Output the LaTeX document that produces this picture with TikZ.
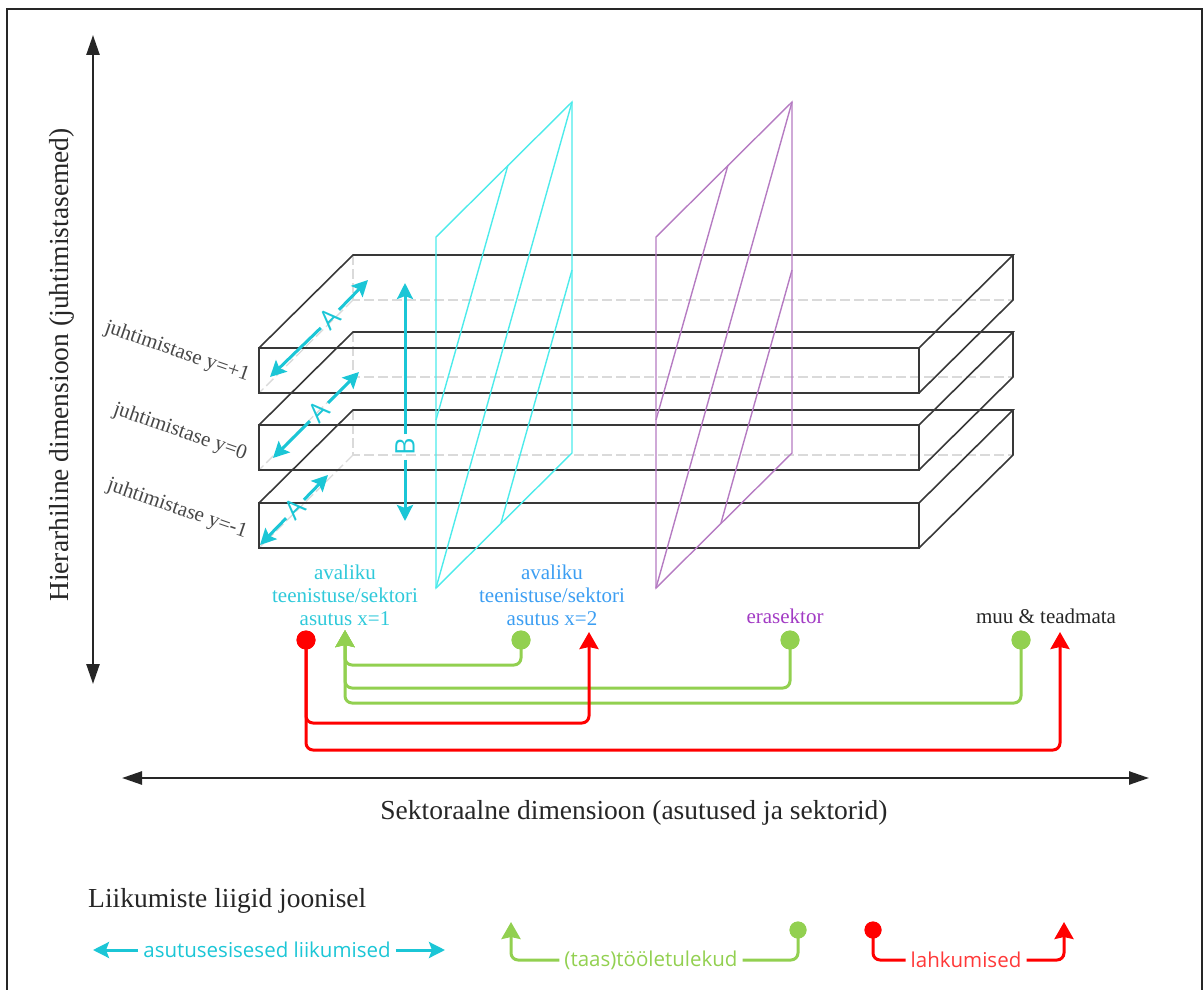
\documentclass[tikz,border=0pt]{standalone}
\usepackage{fontspec}
\setmainfont{Liberation Serif}
\newfontfamily\sansf{Open Sans}
\usetikzlibrary{arrows.meta}
\definecolor{cyA}{HTML}{1BC6D6}
\definecolor{plC}{HTML}{4CEBEB}
\definecolor{plP}{HTML}{B57BC2}
\definecolor{lbA}{HTML}{2FC9DA}
\definecolor{lbB}{HTML}{3C9EF2}
\definecolor{lbE}{HTML}{A23BC4}
\definecolor{gr}{HTML}{92D050}
\definecolor{rd}{HTML}{FF0000}
\definecolor{rdt}{HTML}{FF3838}
\definecolor{edge}{HTML}{383838}
\definecolor{hid}{HTML}{DADADA}
\definecolor{txt}{HTML}{262626}
\begin{document}
\begin{tikzpicture}[x=1pt,y=-1pt,
  axisline/.style={line width=2.5pt, draw=txt, {Triangle[length=20pt,width=13pt]}-{Triangle[length=20pt,width=13pt]}},
  big/.style={font=\fontsize{27.5}{33}\selectfont, text=txt, inner sep=0pt},
  lvl/.style={font=\fontsize{21}{23}\selectfont, text=txt!85, inner sep=0pt, rotate=-19},
  lbl/.style={font=\fontsize{21}{23}\selectfont, align=center, inner sep=0pt},
  sans/.style={font=\sansf\fontsize{20.5}{24}\selectfont, inner sep=5pt},
  letter/.style={font=\sansf\fontsize{27}{30}\selectfont, text=cyA, inner sep=4pt},
  carr/.style={draw=cyA, line width=3pt, -{Stealth[length=16pt,width=16pt,inset=3pt]}},
  slabedge/.style={draw=edge, line width=1.6pt, line join=miter},
  hidden/.style={draw=hid, line width=1.3pt, dash pattern=on 10pt off 4pt},
  plane/.style={line width=1.4pt, line join=miter},
  gline/.style={draw=gr, line width=3pt, rounded corners=7pt},
  rline/.style={draw=rd, line width=3pt, rounded corners=7pt},
  intip/.style={-{Stealth[length=17pt,width=19pt,inset=2pt]}},
  dotg/.style={circle, fill=gr, minimum size=19pt, inner sep=0pt},
  dotr/.style={circle, fill=rd, minimum size=19pt, inner sep=0pt}]
\useasboundingbox (0,0) rectangle (1203,990);
% frame
\draw[line width=2.5pt, draw=txt] (7,1000) -- (7,9) -- (1202,9) -- (1202,1000);

% axes
\coordinate (vt) at (93,35);
\coordinate (vb) at (93,684);
\draw[axisline] (vt) -- (vb);
\node[big, rotate=90] (vlab) at (62,365) {Hierarhiline dimensioon (juhtimistasemed)};
\coordinate (hl) at (122,778);
\coordinate (hr) at (1149,778);
\draw[axisline] (hl) -- (hr);
\node[big] (hlab) at (634,813) {Sektoraalne dimensioon (asutused ja sektorid)};

% slabs: hidden edges
\foreach \T in {348,425,503}{
  \draw[hidden] (353,\T-93) -- (353,\T-48) -- (1013,\T-48);
  \draw[hidden] (353,\T-48) -- (259,\T+45);
}
% slabs: visible edges
\foreach \T in {348,425,503}{
  \draw[slabedge] (259,\T) rectangle (919,\T+45);
  \draw[slabedge] (259,\T) -- (353,\T-93) -- (1013,\T-93) -- (919,\T);
  \draw[slabedge] (1013,\T-93) -- (1013,\T-48) -- (919,\T+45);
}

% planes
\foreach \dx/\col in {0/plC,220/plP}{
  \draw[plane, draw=\col] (436+\dx,237) -- (572+\dx,102) -- (572+\dx,453) -- (436+\dx,588) -- cycle;
  \draw[plane, draw=\col] (508+\dx,165) -- (436+\dx,420);
  \draw[plane, draw=\col] (572+\dx,102) -- (436+\dx,588);
  \draw[plane, draw=\col] (572+\dx,270) -- (501+\dx,523);
}

% level labels
\node[lvl] (y1) at (177,352) {juhtimistase y=+1};
\node[lvl] (y0) at (180,432) {juhtimistase y=0};
\node[lvl] (ym) at (177,509) {juhtimistase y=-1};

% A arrows
\node[letter, rotate=45] (A1) at (330,319) {A};
\coordinate (A1a) at (270,377); \coordinate (A1b) at (368,280);
\draw[carr] (A1) -- (A1a); \draw[carr] (A1) -- (A1b);
\node[letter, rotate=45] (A2) at (319,412) {A};
\coordinate (A2a) at (273,458); \coordinate (A2b) at (359,372);
\draw[carr] (A2) -- (A2a); \draw[carr] (A2) -- (A2b);
\node[letter, rotate=45] (A3) at (295,509) {A};
\coordinate (A3a) at (260,545); \coordinate (A3b) at (328,475);
\draw[carr] (A3) -- (A3a); \draw[carr] (A3) -- (A3b);
% B arrow
\node[letter, rotate=90] (Bl) at (405,447) {B};
\coordinate (Bt) at (405,283); \coordinate (Bb) at (405,521);
\draw[carr] (Bl) -- (Bt); \draw[carr] (Bl) -- (Bb);

% sector labels
\node[lbl, text=lbA] (x1) at (345,595) {avaliku\\teenistuse/sektori\\asutus x=1};
\node[lbl, text=lbB] (x2) at (552,595) {avaliku\\teenistuse/sektori\\asutus x=2};
\node[lbl, text=lbE, anchor=base] (er) at (785,623) {erasektor};
\node[lbl, text=txt, anchor=base] (mu) at (1046,623) {muu \& teadmata};

% flows
\coordinate (x1in) at (345,630);
\coordinate (x2in) at (589,632);
\coordinate (muin) at (1060,632);
\coordinate (h1) at (0,665);
\coordinate (h2) at (0,688);
\coordinate (h3) at (0,703);
\coordinate (h4) at (0,723);
\coordinate (h5) at (0,750);
\node[dotr] (x1out) at (306,640) {};
\node[dotg] (x2out) at (521,640) {};
\node[dotg] (erout) at (790,640) {};
\node[dotg] (muout) at (1021,640) {};
\draw[gline,intip] (x2out.center) -- (x2out |- h1) -| (x1in);
\draw[gline,intip] (erout.center) -- (erout |- h2) -| (x1in);
\draw[gline,intip] (muout.center) -- (muout |- h3) -| (x1in);
\draw[rline,intip] (x1out.center) -- (x1out |- h4) -| (x2in);
\draw[rline,intip] (x1out.center) -- (x1out |- h5) -| (muin);
\node[dotr] at (x1out) {};
\node[dotg] at (x2out) {};
\node[dotg] at (erout) {};
\node[dotg] at (muout) {};

% legend
\node[big, anchor=base west] (legt) at (88,907) {Liikumiste liigid joonisel};
\node[sans, text=cyA] (legA) at (267,950) {asutusesisesed liikumised};
\coordinate (legAl) at (93,950); \coordinate (legAr) at (445,950);
\draw[carr] (legA) -- (legAl); \draw[carr] (legA) -- (legAr);
\node[sans, text=gr] (legG) at (651,960) {(taas)tööletulekud};
\coordinate (legGin) at (511,922);
\node[dotg, minimum size=17pt] (legGout) at (798,930) {};
\draw[gline,intip] (legG) -| (legGin);
\draw[gline] (legGout.center) |- (legG);
\node[dotg, minimum size=17pt] at (legGout) {};
\node[sans, text=rdt] (legR) at (966,960) {lahkumised};
\node[dotr, minimum size=17pt] (legRout) at (873,930) {};
\coordinate (legRin) at (1064,922);
\draw[rline] (legRout.center) |- (legR);
\draw[rline,intip] (legR) -| (legRin);
\node[dotr, minimum size=17pt] at (legRout) {};
\end{tikzpicture}
\end{document}
